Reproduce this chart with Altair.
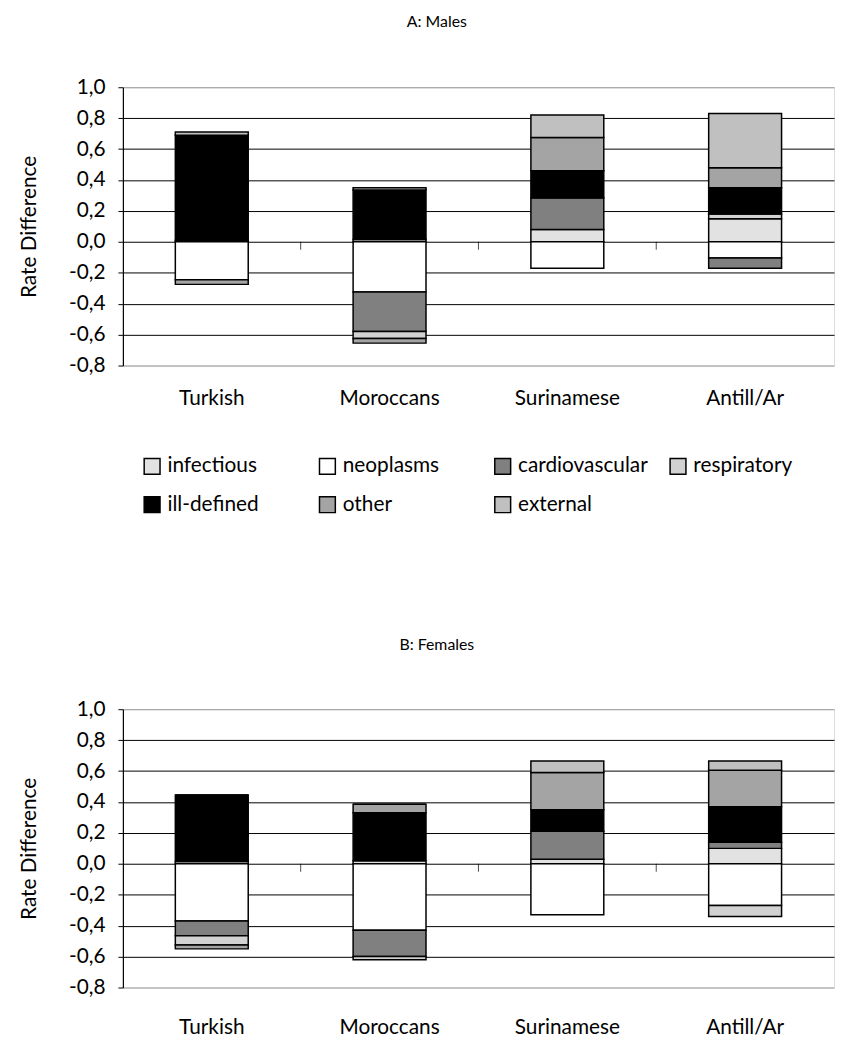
import altair as alt
import pandas as pd

groups = ["Turkish", "Moroccans", "Surinamese", "Antill/Ar"]
causes = ["infectious", "neoplasms", "cardiovascular", "respiratory",
          "ill-defined", "other", "external"]
cause_colors = ["#e2e2e2", "#ffffff", "#808080", "#d2d2d2",
                "#000000", "#a4a4a4", "#c0c0c0"]
y_ticks = [-0.8, -0.6, -0.4, -0.2, 0.0, 0.2, 0.4, 0.6, 0.8, 1.0]

# Males (A)
m_infectious = [0.01, 0.015, 0.08, 0.15]
m_neoplasms = [-0.245, -0.325, -0.17, -0.105]
m_cardiovascular = [0.0, -0.255, 0.205, -0.065]
m_respiratory = [0.0, -0.045, 0.0, 0.03]
m_illdefined = [0.68, 0.32, 0.175, 0.17]
m_other = [-0.03, -0.03, 0.215, 0.13]
m_external = [0.02, 0.015, 0.145, 0.35]

# Females (B)
f_infectious = [0.015, 0.02, 0.03, 0.10]
f_neoplasms = [-0.37, -0.43, -0.33, -0.27]
f_cardiovascular = [-0.095, -0.17, 0.18, 0.04]
f_respiratory = [-0.06, -0.02, 0.0, -0.07]
f_illdefined = [0.43, 0.31, 0.14, 0.23]
f_other = [-0.025, 0.055, 0.24, 0.235]
f_external = [0.0, 0.0, 0.075, 0.06]

FONT = "Lato"


def build_df(series):
    rows = []
    for ci, (cause, vals) in enumerate(zip(causes, series)):
        for g, v in zip(groups, vals):
            rows.append({"group": g, "cause": cause, "idx": ci, "value": v})
    return pd.DataFrame(rows)


males = build_df([m_infectious, m_neoplasms, m_cardiovascular, m_respiratory,
                  m_illdefined, m_other, m_external])
females = build_df([f_infectious, f_neoplasms, f_cardiovascular, f_respiratory,
                    f_illdefined, f_other, f_external])

tick_df = pd.DataFrame({"group": groups[1:], "zero": [0.0] * 3})

label_expr = "replace(replace(format(datum.value, '.1f'), '.', ','), '\u2212', '-')"
grid_color = {"condition": {"test": "datum.value > 0.95 || datum.value < -0.75",
                            "value": "#999999"},
              "value": "#000000"}


def panel(df, title_text, show_legend, title_dx, title_offset, xlabel_pad):
    xscale = alt.Scale(domain=groups, paddingInner=0, paddingOuter=0)
    xaxis = alt.Axis(title=None, labelAngle=0, domain=False, ticks=False,
                     labelFontSize=21, labelPadding=xlabel_pad, labelColor="black",
                     grid=False, labelFont=FONT)
    yscale = alt.Scale(domain=[-0.8, 1.0], nice=False, zero=False)
    yaxis = alt.Axis(values=y_ticks, title="Rate Difference", labelExpr=label_expr,
                     grid=True, gridColor=grid_color, gridWidth=1,
                     domainColor="black", domainWidth=1.2, tickColor="black",
                     tickSize=5, labelFontSize=21, labelPadding=13,
                     labelColor="black", titleFontSize=21, titleFontWeight="normal",
                     titleColor="black", titlePadding=29, labelFont=FONT,
                     titleFont=FONT)
    if show_legend:
        legend = alt.Legend(title=None, orient="none", legendX=19, legendY=372,
                            columns=4, symbolType="square", symbolSize=256,
                            symbolStrokeColor="black", symbolStrokeWidth=1.5,
                            labelFontSize=21, labelFont=FONT, labelColor="black",
                            labelOffset=5, columnPadding=18, rowPadding=16,
                            gridAlign="all", padding=0, direction="horizontal")
    else:
        legend = None
    bars = alt.Chart(df).mark_bar(
        width=alt.RelativeBandSize(0.41), stroke="black", strokeWidth=1.5
    ).encode(
        x=alt.X("group:N", sort=groups, scale=xscale, axis=xaxis),
        y=alt.Y("value:Q", stack="zero", scale=yscale, axis=yaxis),
        color=alt.Color("cause:N", scale=alt.Scale(domain=causes, range=cause_colors),
                        legend=legend),
        order=alt.Order("idx:Q", sort="ascending"),
    )
    ticks = alt.Chart(tick_df).mark_tick(
        orient="vertical", size=8, thickness=1, color="black", yOffset=4
    ).encode(
        x=alt.X("group:N", sort=groups, scale=xscale, axis=xaxis, bandPosition=0),
        y=alt.Y("zero:Q", scale=yscale, axis=yaxis),
    )
    return alt.layer(bars, ticks).properties(
        width=718, height=281,
        title=alt.TitleParams(title_text, fontSize=16, fontWeight="normal",
                              anchor="middle", offset=title_offset, dx=title_dx,
                              font=FONT, color="black"),
    )


top = panel(males, "A: Males", True, -42, 47, 22)
bottom = panel(females, "B: Females", False, -42, 46, 29)

chart = alt.vconcat(top, bottom, spacing=120).resolve_legend(
    color="independent"
).properties(
    padding={"left": 10, "top": 0, "right": 0, "bottom": 0}
).configure_view(stroke=None).configure(font=FONT)

chart.save("out.html", embed_options={"renderer": "svg", "actions": False})
